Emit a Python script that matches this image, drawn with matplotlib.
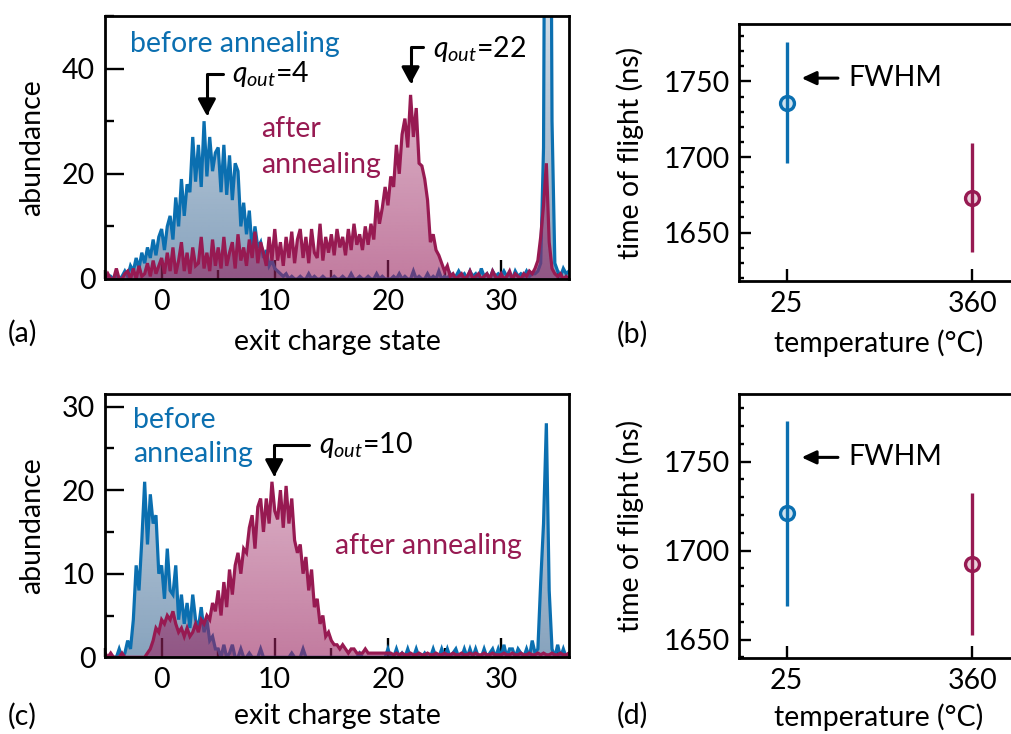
import numpy as np
import matplotlib
matplotlib.use('Agg')
import matplotlib.pyplot as plt
from matplotlib.ticker import MultipleLocator

plt.rcParams['font.family'] = ['Lato', 'DejaVu Sans']
plt.rcParams['mathtext.fontset'] = 'custom'
plt.rcParams['mathtext.rm'] = 'Lato'
plt.rcParams['mathtext.it'] = 'Lato:italic'

BLUE = '#0b6fb0'
RED = '#971a52'
FS = 20.5

# bin centres of the exit charge state histograms
charge = np.arange(-5, 36.01, 0.25)

# (a) abundance before / after annealing
a_before = ([1, 0, 0.5, 0, 1, 0, 0.5, 1.5, 0.5, 2.5, 1.5, 4, 2, 5, 3, 6, 4, 7.5, 4.5, 8]
            + [9.5, 5.5, 10, 12, 7.5, 15.5, 10, 19, 12, 18, 16.5, 27, 18.5, 25.5, 17.5, 30, 19.5, 27, 20.5, 24]
            + [25, 16.5, 25.5, 16, 23.5, 15, 22, 20.5, 10, 14.5, 8.5, 13, 5.5, 10, 6, 7, 4, 5.5, 2.5, 3.5]
            + [2, 1.5, 1, 0.5, 1, 0, 0.5, 0, 0, 0.5, 0, 0, 1, 0, 0.5, 0, 0, 0.5, 0, 0]
            + [0, 0.5, 0, 0, 0.5, 0, 0, 1, 0, 0, 0.5, 0, 0, 0.5, 0, 0, 1, 0, 0.5, 0]
            + [0, 0, 0.5, 0, 1, 0, 0.5, 0, 0, 1.5, 0, 0.5, 0, 0, 1, 0, 0.5, 0, 1.5, 0]
            + [0.5, 0, 1, 0, 0.5, 1.5, 0.5, 1, 0, 1.5, 0.5, 1, 0, 2, 0.5, 1, 0, 1.5, 0.5, 1]
            + [0.5, 1.5, 0.5, 1, 0, 1.5, 0.5, 1, 0.5, 1.5, 0.5, 1, 1, 1.5, 3, 25, 150, 150, 30, 3]
            + [1.5, 0.5, 2, 1, 1.5])
a_after = ([0, 1, 0, 0, 2, 0, 0, 1, 1.5, 0, 2, 0, 2.5, 0.5, 1, 3, 0.5, 3.5, 1, 2.5]
           + [4, 1, 5, 1.5, 6, 1, 3.5, 7, 1.5, 5, 1, 6, 2.5, 3, 8, 2, 5, 1.5, 7.5, 2.5]
           + [6, 2, 8, 2.5, 5, 7, 2, 8.5, 3.5, 6, 2.5, 7.5, 4, 9, 3, 7, 5, 2.5, 8, 3.5]
           + [9.5, 3.5, 7, 2.5, 8, 4, 9, 3, 7.5, 9.5, 4, 8, 3, 9.5, 5, 4, 10.5, 3.5, 8, 5]
           + [8.5, 4.5, 9.5, 6, 8, 4.5, 9.5, 5.5, 10.5, 6.5, 8.5, 5.5, 10, 6.5, 10.5, 7.5, 15, 10.5, 13.5, 17.5]
           + [14, 19.5, 17.5, 25.5, 20, 27.5, 30.5, 25, 35, 27, 32.5, 22, 21.5, 19, 15, 7, 8.5, 5.5, 4.5, 3]
           + [1.5, 2.5, 0.5, 1, 0, 0.5, 1, 0, 0.5, 1.5, 0, 0.5, 1, 0, 0.5, 1, 0, 1.5, 0.5, 0]
           + [1, 0, 0.5, 1.5, 0, 1, 0.5, 0, 1, 0.5, 1.5, 1, 2, 3.5, 8, 14, 22, 7, 2, 1]
           + [0.5, 1, 0, 0.5, 0])

# (c) abundance before / after annealing
c_before = ([0, 0, 0, 0, 0, 1, 0, 0.5, 2, 1, 4.5, 11, 8, 14, 21, 13.5, 19.5, 16, 17, 10]
            + [11, 7, 13, 8, 7.5, 11, 4.5, 7.5, 4, 6.5, 3.5, 7.5, 4.5, 3.5, 6, 3, 4.5, 2, 2.5, 1]
            + [1, 0, 1.5, 0, 0.5, 1.5, 0, 0, 1, 0, 0, 0.5, 0, 0, 0, 1, 0, 0, 0, 0]
            + [0, 0, 0, 0, 0, 0, 0.5, 0, 0, 0, 1, 0, 0, 0, 0, 0, 0, 0, 0, 0]
            + [0, 0, 0, 0, 0, 0, 0, 0, 0, 0, 0.5, 0, 0, 0, 0, 0, 0, 0, 0, 0]
            + [1, 0, 0, 1, 0, 0.5, 0, 1, 0, 0, 1, 0, 0, 0.5, 0, 0, 1, 0, 0, 1]
            + [0, 1, 0, 0.5, 1, 0, 0, 1, 0, 1, 0, 1, 0, 0, 1, 0, 0.5, 1, 0, 1]
            + [0, 1.5, 0, 1, 1, 0, 1, 0.5, 0, 1, 0, 2, 0.5, 1, 9, 16, 28, 8, 1, 0]
            + [1.5, 0, 1, 0, 0.5])
c_after = ([0.5, 0, 0.5, 0, 0, 0, 0.5, 0, 0, 0, 0, 0, 0, 0, 0, 0.5, 1, 2, 3.5, 3]
           + [4.5, 4, 5, 4.5, 5.5, 4, 3, 3.5, 2.5, 3.5, 2.5, 3, 4, 3, 4.5, 4, 5, 4.5, 6.5, 5.5]
           + [8, 5, 9, 6, 10.5, 7.5, 11, 12.5, 10, 13, 12.5, 15.5, 17, 13, 18, 19, 15, 19, 16, 21]
           + [17.5, 16.5, 20, 15.5, 20.5, 16, 19, 14, 12.5, 13.5, 10, 12, 8, 10.5, 6, 7, 4, 5, 2.5, 3]
           + [2, 1.5, 1.5, 1, 1.5, 1, 0.5, 1, 1, 0.5, 0.5, 0.5, 1, 0.5, 0.5, 0.5, 0.5, 0.5, 0.5, 0.5]
           + [0.5, 0.5, 0.3, 0.5, 0.3, 0.5, 0.3, 0.3, 0.5, 0.3, 0.3, 0.5, 0.3, 0.3, 0.5, 0.3, 0.3, 0.5, 0.3, 0.3]
           + [0.5, 0.3, 0.3, 0.5, 0.3, 0.3, 0.5, 0.3, 0.3, 0.5, 0.3, 0.5, 0.3, 0.3, 0.5, 0.3, 0.3, 0.5, 0.3, 0.3]
           + [0.3, 0.5, 0.3, 0.3, 0.5, 0.3, 0.3, 0.5, 0.3, 0.3, 0.5, 0.3, 0.3, 0.5, 0.3, 0.5, 0.3, 0.3, 0.5, 0.3]
           + [0.3, 0.5, 0.3, 0.3, 0.5])

# (b), (d) time of flight with FWHM
temps = ['25', '360']
b_tof = [1736, 1673]
b_fwhm = [40, 36]
d_tof = [1721, 1692.5]
d_fwhm = [52, 40]


def grad_fill(ax, x, y, rgb, a_top, a_bot, ytop, z):
    # fill under the curve with a vertical alpha gradient
    poly = ax.fill_between(x, 0, y, facecolor='none', edgecolor='none')
    img = np.zeros((100, 1, 4))
    img[..., :3] = matplotlib.colors.to_rgb(rgb)
    img[:, 0, 3] = np.linspace(a_top, a_bot, 100)
    im = ax.imshow(img, extent=[x.min(), x.max(), 0, ytop], aspect='auto',
                   origin='upper', zorder=z, interpolation='bilinear')
    im.set_clip_path(poly.get_paths()[0], transform=ax.transData)


def hist_panel(ax, before, after, ytop, ymaj, ymin, ylab_y):
    before = np.array(before, dtype=float)
    after = np.array(after, dtype=float)
    grad_fill(ax, charge, before, '#46719a', 0.25, 0.65, ytop, 1)
    ax.plot(charge, before, color=BLUE, lw=2.3, solid_joinstyle='miter', zorder=2)
    grad_fill(ax, charge, after, '#9a2460', 0.25, 0.6, ytop, 3)
    ax.plot(charge, after, color=RED, lw=2.3, solid_joinstyle='miter', zorder=4)
    ax.set_xlim(-5, 36)
    ax.set_ylim(0, ytop)
    ax.xaxis.set_major_locator(MultipleLocator(10))
    ax.xaxis.set_minor_locator(MultipleLocator(5))
    ax.yaxis.set_major_locator(MultipleLocator(ymaj))
    ax.yaxis.set_minor_locator(MultipleLocator(ymin))
    ax.tick_params(which='major', direction='in', length=13.5, width=1.7,
                   labelsize=FS, pad=7)
    ax.tick_params(which='minor', direction='in', length=6.5, width=1.7)
    ax.set_xlabel('exit charge state', fontsize=FS)
    ax.set_ylabel('abundance', fontsize=FS)
    ax.xaxis.set_label_coords(0.5, ylab_y)
    ax.yaxis.set_label_coords(-0.13, 0.5)
    for s in ax.spines.values():
        s.set_linewidth(2.0)
        s.set_zorder(10)


def tof_panel(ax, tof, fwhm, ylo, fwhm_y, ylab_y):
    pos = np.arange(len(temps))
    for i, c in enumerate([BLUE, RED]):
        ax.errorbar(pos[i], tof[i], yerr=fwhm[i], fmt='o', color=c, ms=10,
                    mfc=matplotlib.colors.to_rgba(c, 0.2), mec=c, mew=2.4,
                    elinewidth=2.4, capsize=0)
    ax.set_xlim(-0.255, 1.25)
    ax.set_ylim(ylo, 1788)
    ax.set_xticks(pos)
    ax.set_xticklabels(temps)
    ax.yaxis.set_major_locator(MultipleLocator(50))
    ax.yaxis.set_minor_locator(MultipleLocator(10))
    ax.tick_params(which='major', direction='in', length=8.6, width=1.7,
                   labelsize=FS, pad=7)
    ax.tick_params(which='minor', direction='in', length=3.6, width=1.7)
    ax.set_xlabel('temperature (°C)', fontsize=FS)
    ax.set_ylabel('time of flight (ns)', fontsize=FS)
    ax.xaxis.set_label_coords(0.5, ylab_y)
    ax.yaxis.set_label_coords(-0.34, 0.5)
    ax.annotate('', xy=(0.08, fwhm_y), xytext=(0.276, fwhm_y),
                arrowprops=dict(arrowstyle='-|>,head_length=0.43,head_width=0.2',
                                mutation_scale=20, lw=2.2, color='black',
                                shrinkA=0, shrinkB=0))
    ax.text(0.33, fwhm_y, 'FWHM', fontsize=FS, va='center')
    for s in ax.spines.values():
        s.set_linewidth(2.0)


def qout_arrow(ax, tip, start, label, tpos):
    ax.annotate('', xy=tip, xytext=start,
                arrowprops=dict(arrowstyle='-|>,head_length=0.5,head_width=0.27',
                                connectionstyle='angle,angleA=0,angleB=90,rad=0',
                                mutation_scale=20, lw=2.2, color='black',
                                shrinkA=0, shrinkB=0), zorder=6)
    ax.text(tpos[0], tpos[1], label, fontsize=FS, va='baseline', zorder=6)


fig = plt.figure(figsize=(10.11, 7.34), dpi=100)
ax_a = fig.add_axes([0.1039, 0.6199, 0.4589, 0.3583])
ax_b = fig.add_axes([0.7313, 0.6172, 0.2764, 0.3501])
ax_c = fig.add_axes([0.1039, 0.1045, 0.4589, 0.3587])
ax_d = fig.add_axes([0.7313, 0.1031, 0.2764, 0.3601])

hist_panel(ax_a, a_before, a_after, 50, 20, 10, -0.19)
ax_a.text(-2.8, 43.1, 'before annealing', color=BLUE, fontsize=FS, va='baseline')
ax_a.text(8.75, 27.0, 'after', color=RED, fontsize=FS, va='baseline')
ax_a.text(8.75, 20.2, 'annealing', color=RED, fontsize=FS, va='baseline')
qout_arrow(ax_a, (4.0, 31.0), (5.4, 39.0), r'$q_{out}$=4', (6.2, 37.4))
qout_arrow(ax_a, (22.0, 37.1), (23.1, 44.1), r'$q_{out}$=22', (24.0, 42.3))

hist_panel(ax_c, c_before, c_after, 31.5, 10, 5, -0.175)
ax_c.text(-2.56, 27.4, 'before', color=BLUE, fontsize=FS, va='baseline')
ax_c.text(-2.56, 23.4, 'annealing', color=BLUE, fontsize=FS, va='baseline')
ax_c.text(15.3, 12.4, 'after annealing', color=RED, fontsize=FS, va='baseline')
qout_arrow(ax_c, (9.95, 21.6), (13.0, 25.4), r'$q_{out}$=10', (13.9, 24.4))

tof_panel(ax_b, b_tof, b_fwhm, 1618, 1752.2, -0.19)
tof_panel(ax_d, d_tof, d_fwhm, 1639.5, 1752.4, -0.17)

fig.text(0.008, 0.546, '(a)', fontsize=FS, va='center')
fig.text(0.610, 0.545, '(b)', fontsize=FS, va='center')
fig.text(0.008, 0.024, '(c)', fontsize=FS, va='center')
fig.text(0.610, 0.025, '(d)', fontsize=FS, va='center')

fig.savefig('out.png', dpi=100)
